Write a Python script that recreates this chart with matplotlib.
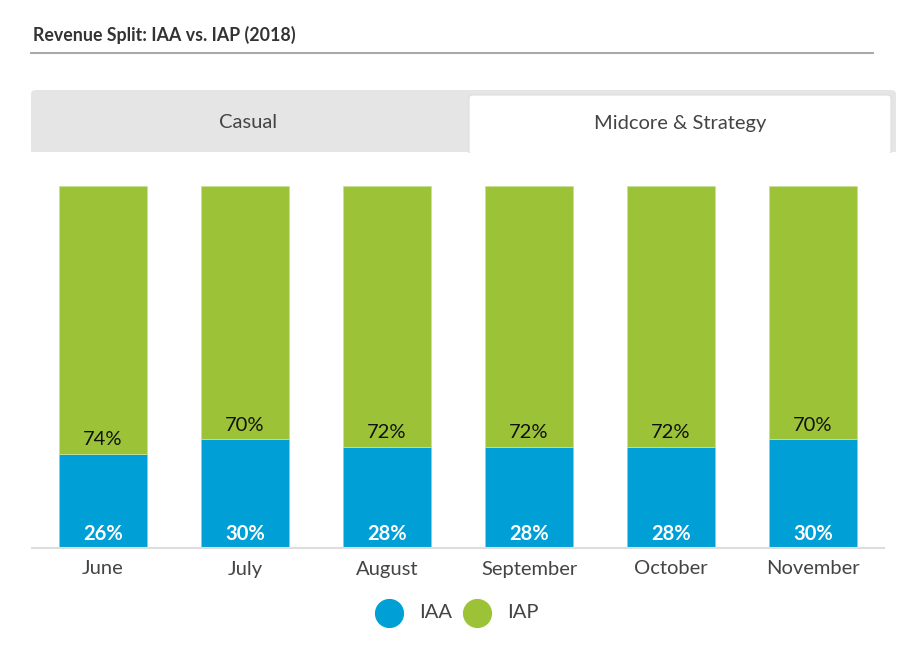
import matplotlib
matplotlib.use("Agg")
import matplotlib.pyplot as plt
from matplotlib.patches import FancyBboxPatch, Rectangle

plt.rcParams["font.family"] = ["Lato", "DejaVu Sans"]

months = ["June", "July", "August", "September", "October", "November"]
iaa = [26, 30, 28, 28, 28, 30]
iap = [74, 70, 72, 72, 72, 70]

BLUE = "#009fd6"
GREEN = "#9cc337"

W, H = 911, 656
fig = plt.figure(figsize=(W / 100, H / 100), dpi=100)


def fx(px):
    return px / W


def fy(py):
    return 1 - py / H


# title + rule
fig.text(fx(33), fy(35), "Revenue Split: IAA vs. IAP (2018)", fontsize=12.8,
         fontweight="bold", color="#333333", va="center", ha="left")
fig.add_artist(plt.Line2D([fx(31), fx(873)], [fy(53), fy(53)], color="#aaaaaa", lw=1.5))

# tabs
fig.add_artist(FancyBboxPatch((fx(31), fy(154)), fx(896 - 31), (154 - 90) / H,
                              boxstyle="round,pad=0,rounding_size=0.006",
                              transform=fig.transFigure, fc="#e5e5e5", ec="none"))
fig.add_artist(Rectangle((fx(31), fy(160)), fx(896 - 31), 8 / H,
                         transform=fig.transFigure, fc="white", ec="none"))
fig.add_artist(FancyBboxPatch((fx(469), fy(154)), fx(891 - 469), (154 - 95) / H,
                              boxstyle="round,pad=0,rounding_size=0.004",
                              transform=fig.transFigure, fc="white", ec="#dddddd", lw=0.8))
fig.add_artist(Rectangle((fx(468), fy(158)), fx(892 - 468), 5 / H,
                         transform=fig.transFigure, fc="white", ec="none"))
fig.text(fx(248), fy(123), "Casual", fontsize=14.5, color="#444444", ha="center", va="center")
fig.text(fx(680), fy(123), "Midcore & Strategy", fontsize=14.5, color="#444444",
         ha="center", va="center")

# bars
ax = fig.add_axes([fx(32), fy(548), fx(884 - 32), (548 - 186) / H])
x = range(len(months))
ax.bar(x, iaa, width=0.615, color=BLUE, edgecolor="#7fd0ec", linewidth=0.6)
ax.bar(x, iap, bottom=iaa, width=0.615, color=GREEN, edgecolor="#c9e09a", linewidth=0.6)
for i in x:
    ax.text(i, 3.9, f"{iaa[i]}%", ha="center", va="center", color="white",
            fontsize=14.5, fontweight="bold")
    ax.text(i, iaa[i] + 3.9, f"{iap[i]}%", ha="center", va="center", color="#111111",
            fontsize=14.5)
ax.set_xlim(-0.5, len(months) - 0.5)
ax.set_ylim(0, 100)
ax.set_xticks(list(x))
ax.set_xticklabels(months, fontsize=14.5, color="#444444")
ax.tick_params(axis="x", length=0, pad=9)
ax.set_yticks([])
for s in ["top", "left", "right"]:
    ax.spines[s].set_visible(False)
ax.spines["bottom"].set_color("#dddddd")
ax.spines["bottom"].set_linewidth(1.5)

# legend
lg = [("IAA", BLUE, 389), ("IAP", GREEN, 477)]
for name, col, cx in lg:
    fig.add_artist(plt.Line2D([fx(cx)], [fy(613)], marker="o", markersize=20,
                              color=col, ls="none"))
    fig.text(fx(cx + 30), fy(613), name, fontsize=14.5, color="#444444", va="center")

fig.savefig("out.png", dpi=100)
